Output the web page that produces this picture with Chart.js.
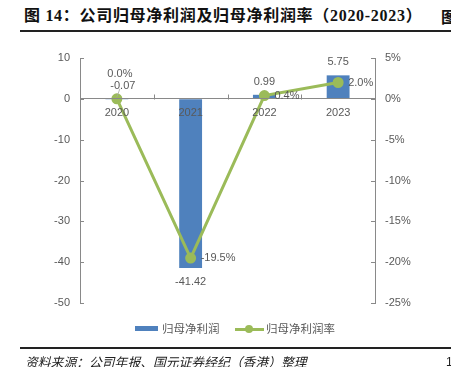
<!DOCTYPE html>
<html><head><meta charset="utf-8">
<script src="https://cdn.jsdelivr.net/npm/chart.js@4/dist/chart.umd.min.js"></script>
<style>
html,body{margin:0;padding:0;background:#fff;width:451px;height:367px;overflow:hidden;}
body{position:relative;font-family:"Liberation Sans","Noto Sans CJK SC",sans-serif;}
#box{position:absolute;left:0;top:0;width:451px;height:367px;}
.title{position:absolute;left:24px;top:6px;font-weight:bold;font-size:16px;letter-spacing:0.7px;font-family:"Liberation Serif","Noto Sans CJK SC",serif;color:#111;white-space:nowrap;line-height:20px;}
.title2{position:absolute;left:441px;top:6px;font-weight:bold;font-size:16px;font-family:"Noto Sans CJK SC",serif;color:#111;white-space:nowrap;line-height:20px;}
.rule{position:absolute;left:20px;width:431px;height:2px;background:#222;}
.foot{position:absolute;left:25px;top:354px;font-size:12.8px;font-style:italic;font-family:"Noto Sans CJK SC",sans-serif;color:#222;white-space:nowrap;line-height:16px;}
.pg{position:absolute;left:446px;top:354px;font-size:12px;color:#222;line-height:16px;}
.leg{position:absolute;top:320px;height:16px;font-size:11.5px;font-family:"Noto Sans CJK SC",sans-serif;color:#595959;line-height:16px;white-space:nowrap;}
</style></head>
<body>
<div class="title">图 14：公司归母净利润及归母净利润率（2020-2023）</div>
<div class="title2">图</div>
<div class="rule" style="top:30px"></div>
<div id="box"><canvas id="c" width="451" height="367"></canvas></div>
<div class="leg" style="left:135px"><span style="display:inline-block;width:23px;height:5px;background:#4F81BD;vertical-align:middle;margin-right:4px;position:relative;top:-1px"></span>归母净利润</div>
<div class="leg" style="left:235px"><span style="display:inline-block;width:29px;height:8px;position:relative;vertical-align:middle;margin-right:2px;top:-1px"><span style="position:absolute;left:0;top:3px;width:29px;height:3px;background:#9BBB59"></span><span style="position:absolute;left:10px;top:0;width:8px;height:8px;border-radius:50%;background:#9BBB59"></span></span>归母净利润率</div>
<div class="rule" style="top:347px"></div>
<div class="foot">资料来源：公司年报、国元证券经纪（香港）整理</div>
<div class="pg">1</div>
<script>
const categories = ['2020', '2021', '2022', '2023'];
const netProfit = [-0.07, -41.42, 0.99, 5.75];        // 归母净利润
const netMargin = [0.0, -19.5, 0.4, 2.0];              // 归母净利润率 (%)
const leftTicks = [-50, -40, -30, -20, -10, 0, 10];
const rightTicks = [-25, -20, -15, -10, -5, 0, 5];

const marginLabelPlace = ['above', 'right', 'right', 'right'];
const GRAY = '#595959', AXIS = '#898989';
const FONT = '"Liberation Sans", Arial, sans-serif';

const decor = {
  id: 'decor',
  afterDraw(chart) {
    const ctx = chart.ctx, a = chart.chartArea;
    const x = chart.scales.x, y = chart.scales.y, y1 = chart.scales.y1;
    ctx.save();
    ctx.strokeStyle = AXIS; ctx.lineWidth = 1;
    ctx.beginPath();
    leftTicks.forEach(v => { const p = Math.round(y.getPixelForValue(v)) + 0.5; ctx.moveTo(a.left, p); ctx.lineTo(a.left + 4, p); });
    rightTicks.forEach(v => { const p = Math.round(y1.getPixelForValue(v)) + 0.5; ctx.moveTo(a.right - 4, p); ctx.lineTo(a.right, p); });
    const y0 = Math.round(y.getPixelForValue(0)) + 0.5;
    for (let i = 1; i < categories.length; i++) {
      const p = Math.round((x.getPixelForTick(i - 1) + x.getPixelForTick(i)) / 2) + 0.5;
      ctx.moveTo(p, y0); ctx.lineTo(p, y0 - 5);
    }
    ctx.stroke();

    ctx.font = '11px ' + FONT; ctx.fillStyle = GRAY; ctx.textBaseline = 'middle';
    // bar labels
    chart.getDatasetMeta(0).data.forEach((el, i) => {
      const v = netProfit[i];
      const top = Math.min(el.y, el.base), bot = Math.max(el.y, el.base);
      ctx.textAlign = 'center';
      if (v > -1) ctx.fillText(v.toFixed(2), el.x + (v < 0 ? 6 : 0), top - 13);
      else ctx.fillText(v.toFixed(2), el.x, bot + 14);
    });
    // line labels
    chart.getDatasetMeta(1).data.forEach((el, i) => {
      const t = netMargin[i].toFixed(1) + '%';
      if (marginLabelPlace[i] === 'above') {
        ctx.textAlign = 'center';
        ctx.fillText(t, el.x + 3, el.y - 25);
        ctx.strokeStyle = '#a6a6a6'; ctx.lineWidth = 0.8;
        ctx.beginPath(); ctx.moveTo(el.x + 3, el.y - 10); ctx.lineTo(el.x, el.y - 2); ctx.stroke();
      } else {
        ctx.textAlign = 'left';
        ctx.fillText(t, el.x + 10, el.y);
      }
    });
    ctx.restore();
  }
};

new Chart(document.getElementById('c'), {
  data: {
    labels: categories,
    datasets: [
      { type: 'bar', label: '归母净利润', data: netProfit, yAxisID: 'y', backgroundColor: '#4F81BD',
        barPercentage: 0.31, categoryPercentage: 1, order: 2 },
      { type: 'line', label: '归母净利润率', data: netMargin, yAxisID: 'y1', borderColor: '#9BBB59',
        backgroundColor: '#9BBB59', borderWidth: 3, pointRadius: 4, pointHoverRadius: 4,
        pointBackgroundColor: '#9BBB59', pointBorderColor: '#9BBB59', tension: 0, order: 1 }
    ]
  },
  options: {
    responsive: false, animation: false, devicePixelRatio: 1,
    layout: { padding: { left: 0, right: 0, top: 58, bottom: 64 } },
    plugins: { legend: { display: false }, tooltip: { enabled: false } },
    scales: {
      x: {
        type: 'category', position: { y: 0 }, offset: true,
        grid: { display: true, drawOnChartArea: false, drawTicks: false },
        border: { display: true, color: AXIS, width: 1, z: 1 },
        ticks: { color: GRAY, font: { size: 11, family: FONT }, padding: 8, maxRotation: 0, z: 2 }
      },
      y: {
        position: 'left', min: -50, max: 10,
        afterBuildTicks: s => { s.ticks = leftTicks.map(v => ({ value: v })); },
        afterFit: s => { s.width = 80; },
        grid: { drawOnChartArea: false, drawTicks: false },
        border: { display: true, color: AXIS, width: 1 },
        ticks: { color: GRAY, font: { size: 11, family: FONT }, padding: 10 }
      },
      y1: {
        position: 'right', min: -25, max: 5,
        afterBuildTicks: s => { s.ticks = rightTicks.map(v => ({ value: v })); },
        afterFit: s => { s.width = 76; },
        grid: { drawOnChartArea: false, drawTicks: false },
        border: { display: true, color: AXIS, width: 1 },
        ticks: { color: GRAY, font: { size: 11, family: FONT }, padding: 10, callback: v => v + '%' }
      }
    }
  },
  plugins: [decor]
});
</script>
</body></html>
